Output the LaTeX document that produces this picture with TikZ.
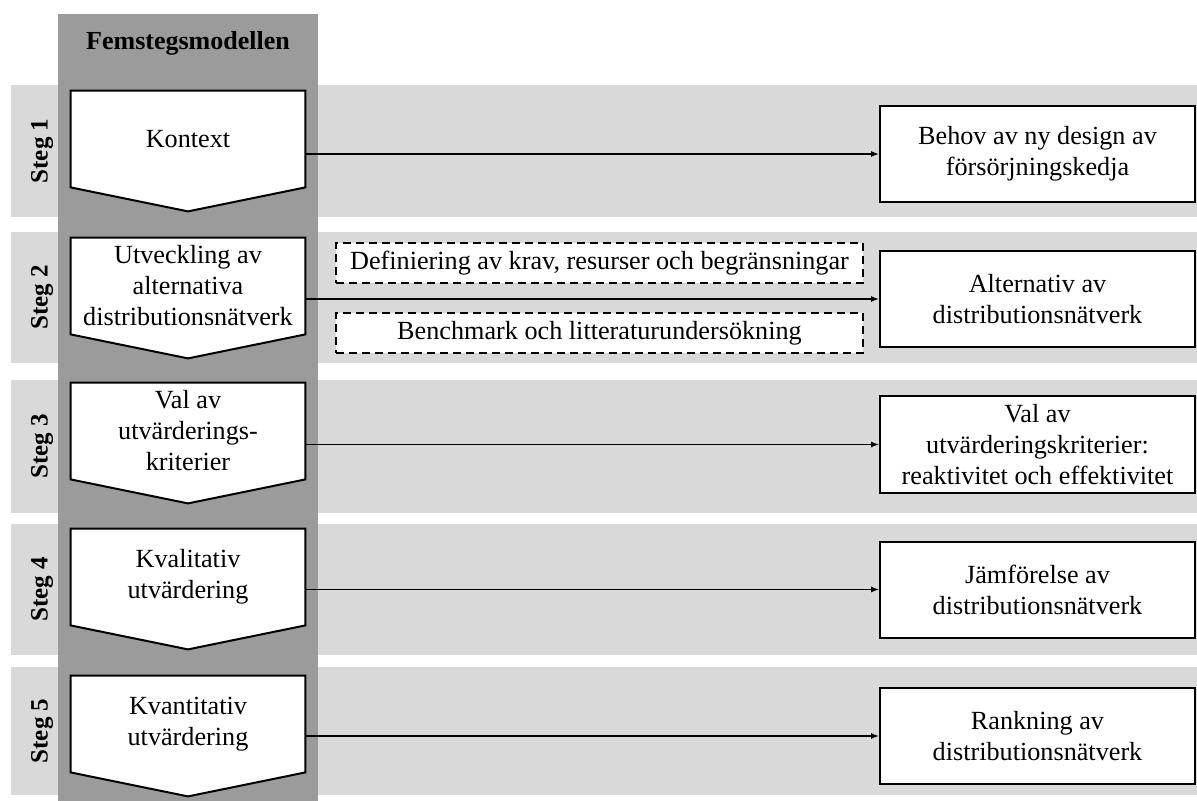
\documentclass[tikz,border=0pt]{standalone}
\usepackage{fontspec}
\setmainfont{Liberation Serif}
\usetikzlibrary{arrows.meta,calc}
\pgfdeclarelayer{back}
\pgfsetlayers{back,main}
\definecolor{columngray}{RGB}{155,155,155}
\definecolor{bandgray}{RGB}{217,217,217}
\begin{document}
\begin{tikzpicture}[x=0.5pt,y=-0.5pt,
  txt/.style={font=\fontsize{13.1}{15.5}\selectfont, align=center},
  chev/.style={txt, minimum width=117pt, minimum height=48pt, inner sep=0pt},
  chevshape/.style={fill=white, draw=black, line width=1pt, line join=miter},
  outcome/.style={txt, draw, line width=1pt, fill=white, minimum width=157.5pt, minimum height=48pt, inner sep=2pt},
  aux/.style={txt, draw, dash pattern=on 4pt off 2.5pt, line width=1pt, fill=white, minimum width=263.5pt, minimum height=20pt, inner sep=1pt},
  steglabel/.style={font=\fontsize{12.5}{15}\selectfont\bfseries, rotate=90},
  flow/.style={line width=0.6pt, -{Latex[length=4pt,width=3pt]}}]
\useasboundingbox (0,0) rectangle (1197,801);

% step bands and the model column
\begin{pgfonlayer}{back}
  \fill[bandgray] (11,85) rectangle (1197,217);
  \fill[bandgray] (11,232) rectangle (1197,363);
  \fill[bandgray] (11,380) rectangle (1197,513);
  \fill[bandgray] (11,524) rectangle (1197,655);
  \fill[bandgray] (11,667) rectangle (1197,795);
  \fill[columngray] (58,14) rectangle (318,801);
\end{pgfonlayer}

\node[font=\fontsize{13}{15}\selectfont\bfseries] (title) at (188,43) {Femstegsmodellen};

% step labels
\node[steglabel] (s1) at (42,151) {Steg 1};
\node[steglabel] (s2) at (42,297.5) {Steg 2};
\node[steglabel] (s3) at (42,446.5) {Steg 3};
\node[steglabel] (s4) at (42,589.5) {Steg 4};
\node[steglabel] (s5) at (42,731) {Steg 5};

% chevron steps
\node[chev] (k1) at (188,139) {Kontext};
\node[chev] (k2) at (188,286) {Utveckling av\\alternativa\\distributionsnätverk};
\node[chev] (k3) at (188,431) {Val av\\utvärderings-\\kriterier};
\node[chev] (k4) at (188,577) {Kvalitativ\\utvärdering};
\node[chev] (k5) at (188,724) {Kvantitativ\\utvärdering};

\begin{pgfonlayer}{back}
  \foreach \k in {k1,k2,k3,k4,k5}{
    \path[chevshape] (\k.north west) -- (\k.north east) -- (\k.south east)
      -- ($(\k.south)+(0,24)$) -- (\k.south west) -- cycle;
  }
\end{pgfonlayer}

% outcomes
\node[outcome] (r1) at (1037.5,154) {Behov av ny design av\\försörjningskedja};
\node[outcome] (r2) at (1037.5,299) {Alternativ av\\distributionsnätverk};
\node[outcome] (r3) at (1037.5,444.5) {Val av\\utvärderingskriterier:\\reaktivitet och effektivitet};
\node[outcome] (r4) at (1037.5,589.5) {Jämförelse av\\distributionsnätverk};
\node[outcome] (r5) at (1037.5,736) {Rankning av\\distributionsnätverk};

% supporting activities of step 2
\node[aux] (d1) at (599.5,263.5) {Definiering av krav, resurser och begränsningar};
\node[aux] (d2) at (599.5,333) {Benchmark och litteraturundersökning};

% connectors
\foreach \i in {1,...,5}{
  \draw[flow] (k\i.east |- r\i.west) -- (r\i.west);
}
\end{tikzpicture}
\end{document}
